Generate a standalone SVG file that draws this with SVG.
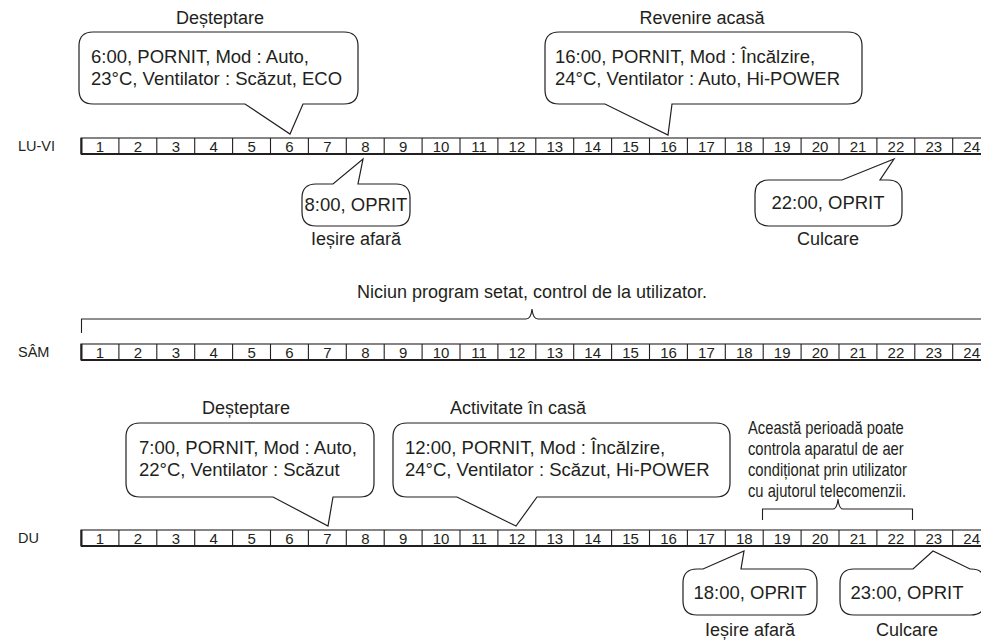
<svg xmlns="http://www.w3.org/2000/svg" width="981" height="641" viewBox="0 0 981 641">
<style>
text{font-family:"Liberation Sans",Arial,sans-serif;fill:#231f20}
.lbl{font-size:18px}
.big{font-size:18.5px}
.nt{font-size:18px}
.mid{text-anchor:middle}
.d{font-size:15px;text-anchor:middle}
.rl{font-size:14.5px}
.co{fill:#fff;stroke:#231f20;stroke-width:1.2;stroke-linejoin:miter}
.fr{fill:none;stroke:#231f20;stroke-width:1.1}
.fb{fill:none;stroke:#231f20;stroke-width:2}
.br{fill:none;stroke:#231f20;stroke-width:1.1}
</style>
<defs>
<g id="frame">
<rect class="fr" x="81" y="0" width="920" height="16"/>
<path class="fb" d="M81,16H981M81.5,0V16"/>
<path class="fr" d="M118.9,0V16M156.8,0V16M194.7,0V16M232.6,0V16M270.5,0V16M308.4,0V16M346.3,0V16M384.2,0V16M422.1,0V16M460,0V16M497.9,0V16M535.8,0V16M573.7,0V16M611.6,0V16M649.5,0V16M687.4,0V16M725.3,0V16M763.2,0V16M801.1,0V16M839,0V16M876.9,0V16M914.8,0V16M952.7,0V16"/>
</g>
</defs>

<g id="row-luvi">
<text class="rl" x="18" y="151">LU-VI</text>
<use href="#frame" transform="translate(0,138)"/>
<text class="d" y="151.5"><tspan x="100">1</tspan><tspan x="137.9">2</tspan><tspan x="175.8">3</tspan><tspan x="213.7">4</tspan><tspan x="251.6">5</tspan><tspan x="289.5">6</tspan><tspan x="327.4">7</tspan><tspan x="365.3">8</tspan><tspan x="403.2">9</tspan><tspan x="441.1">10</tspan><tspan x="479">11</tspan><tspan x="516.9">12</tspan><tspan x="554.8">13</tspan><tspan x="592.7">14</tspan><tspan x="630.6">15</tspan><tspan x="668.5">16</tspan><tspan x="706.4">17</tspan><tspan x="744.3">18</tspan><tspan x="782.2">19</tspan><tspan x="820.1">20</tspan><tspan x="858">21</tspan><tspan x="895.9">22</tspan><tspan x="933.8">23</tspan><tspan x="971.7">24</tspan></text>
</g>

<g id="row-sam">
<text class="rl" x="18" y="357">SÂM</text>
<use href="#frame" transform="translate(0,344)"/>
<text class="d" y="357.5"><tspan x="100">1</tspan><tspan x="137.9">2</tspan><tspan x="175.8">3</tspan><tspan x="213.7">4</tspan><tspan x="251.6">5</tspan><tspan x="289.5">6</tspan><tspan x="327.4">7</tspan><tspan x="365.3">8</tspan><tspan x="403.2">9</tspan><tspan x="441.1">10</tspan><tspan x="479">11</tspan><tspan x="516.9">12</tspan><tspan x="554.8">13</tspan><tspan x="592.7">14</tspan><tspan x="630.6">15</tspan><tspan x="668.5">16</tspan><tspan x="706.4">17</tspan><tspan x="744.3">18</tspan><tspan x="782.2">19</tspan><tspan x="820.1">20</tspan><tspan x="858">21</tspan><tspan x="895.9">22</tspan><tspan x="933.8">23</tspan><tspan x="971.7">24</tspan></text>
</g>

<g id="row-du">
<text class="rl" x="18" y="543">DU</text>
<use href="#frame" transform="translate(0,530)"/>
<text class="d" y="543.5"><tspan x="100">1</tspan><tspan x="137.9">2</tspan><tspan x="175.8">3</tspan><tspan x="213.7">4</tspan><tspan x="251.6">5</tspan><tspan x="289.5">6</tspan><tspan x="327.4">7</tspan><tspan x="365.3">8</tspan><tspan x="403.2">9</tspan><tspan x="441.1">10</tspan><tspan x="479">11</tspan><tspan x="516.9">12</tspan><tspan x="554.8">13</tspan><tspan x="592.7">14</tspan><tspan x="630.6">15</tspan><tspan x="668.5">16</tspan><tspan x="706.4">17</tspan><tspan x="744.3">18</tspan><tspan x="782.2">19</tspan><tspan x="820.1">20</tspan><tspan x="858">21</tspan><tspan x="895.9">22</tspan><tspan x="933.8">23</tspan><tspan x="971.7">24</tspan></text>
</g>

<g id="connectors">
<path class="br" d="M81.5,333V319H526Q531,319 532,309Q533,319 538,319H981"/>
<path class="br" d="M762.5,520V509H833Q837,509 838,499Q839,509 843,509H912.5V520"/>
</g>

<g id="callout-6">
<text class="lbl mid" x="220" y="24">Deșteptare</text>
<path class="co" d="M93,32H344Q358,32 358,46V90Q358,104 344,104H303L290,134L245,104H93Q79,104 79,90V46Q79,32 93,32Z"/>
<text class="big" x="91" y="63">6:00, PORNIT, Mod : Auto,</text>
<text class="big" x="91" y="85">23°C, Ventilator : Scăzut, ECO</text>
</g>

<g id="callout-16">
<text class="lbl mid" x="702" y="24">Revenire acasă</text>
<path class="co" d="M559,32H848Q862,32 862,46V90Q862,104 848,104H672L668,135L605,104H559Q545,104 545,90V46Q545,32 559,32Z"/>
<text class="big" x="555" y="63">16:00, PORNIT, Mod : Încălzire,</text>
<text class="big" x="555" y="85">24°C, Ventilator : Auto, Hi-POWER</text>
</g>

<g id="callout-8">
<path class="co" d="M316,184H333L363,159L358,184H396Q410,184 410,198V212Q410,226 396,226H316Q302,226 302,212V198Q302,184 316,184Z"/>
<text class="big mid" x="356" y="211">8:00, OPRIT</text>
<text class="lbl mid" x="356" y="245">Ieșire afară</text>
</g>

<g id="callout-22">
<path class="co" d="M769,180H842L894,159L880,180H888Q902,180 902,194V212Q902,226 888,226H769Q755,226 755,212V194Q755,180 769,180Z"/>
<text class="big mid" x="828" y="209">22:00, OPRIT</text>
<text class="lbl mid" x="828" y="245">Culcare</text>
</g>

<g id="note-sam">
<text class="lbl mid" x="532" y="298">Niciun program setat, control de la utilizator.</text>
</g>

<g id="callout-7">
<text class="lbl mid" x="246" y="414">Deșteptare</text>
<path class="co" d="M140,423H360Q374,423 374,437V483Q374,497 360,497H333L328,526L273,497H140Q126,497 126,483V437Q126,423 140,423Z"/>
<text class="big" x="139" y="454">7:00, PORNIT, Mod : Auto,</text>
<text class="big" x="139" y="476">22°C, Ventilator : Scăzut</text>
</g>

<g id="callout-12">
<text class="lbl mid" x="518" y="414">Activitate în casă</text>
<path class="co" d="M407,423H716Q730,423 730,437V483Q730,497 716,497H537L516,526L457,497H407Q393,497 393,483V437Q393,423 407,423Z"/>
<text class="big" x="405" y="454">12:00, PORNIT, Mod : Încălzire,</text>
<text class="big" x="405" y="476">24°C, Ventilator : Scăzut, Hi-POWER</text>
</g>

<g id="note-du" transform="translate(748,0) scale(0.82,1)">
<text class="nt" x="0" y="434">Această perioadă poate</text>
<text class="nt" x="0" y="455">controla aparatul de aer</text>
<text class="nt" x="0" y="476">condiționat prin utilizator</text>
<text class="nt" x="0" y="497">cu ajutorul telecomenzii.</text>
</g>

<g id="callout-18">
<path class="co" d="M697,569H703L744,551L741,569H803Q817,569 817,583V601Q817,615 803,615H697Q683,615 683,601V583Q683,569 697,569Z"/>
<text class="big mid" x="750" y="599">18:00, OPRIT</text>
<text class="lbl mid" x="750" y="636">Ieșire afară</text>
</g>

<g id="callout-23">
<path class="co" d="M854,569H913L933,551L970,569H971Q985,569 985,583V601Q985,615 971,615H854Q840,615 840,601V583Q840,569 854,569Z"/>
<text class="big mid" x="907" y="599">23:00, OPRIT</text>
<text class="lbl mid" x="907" y="636">Culcare</text>
</g>
</svg>
